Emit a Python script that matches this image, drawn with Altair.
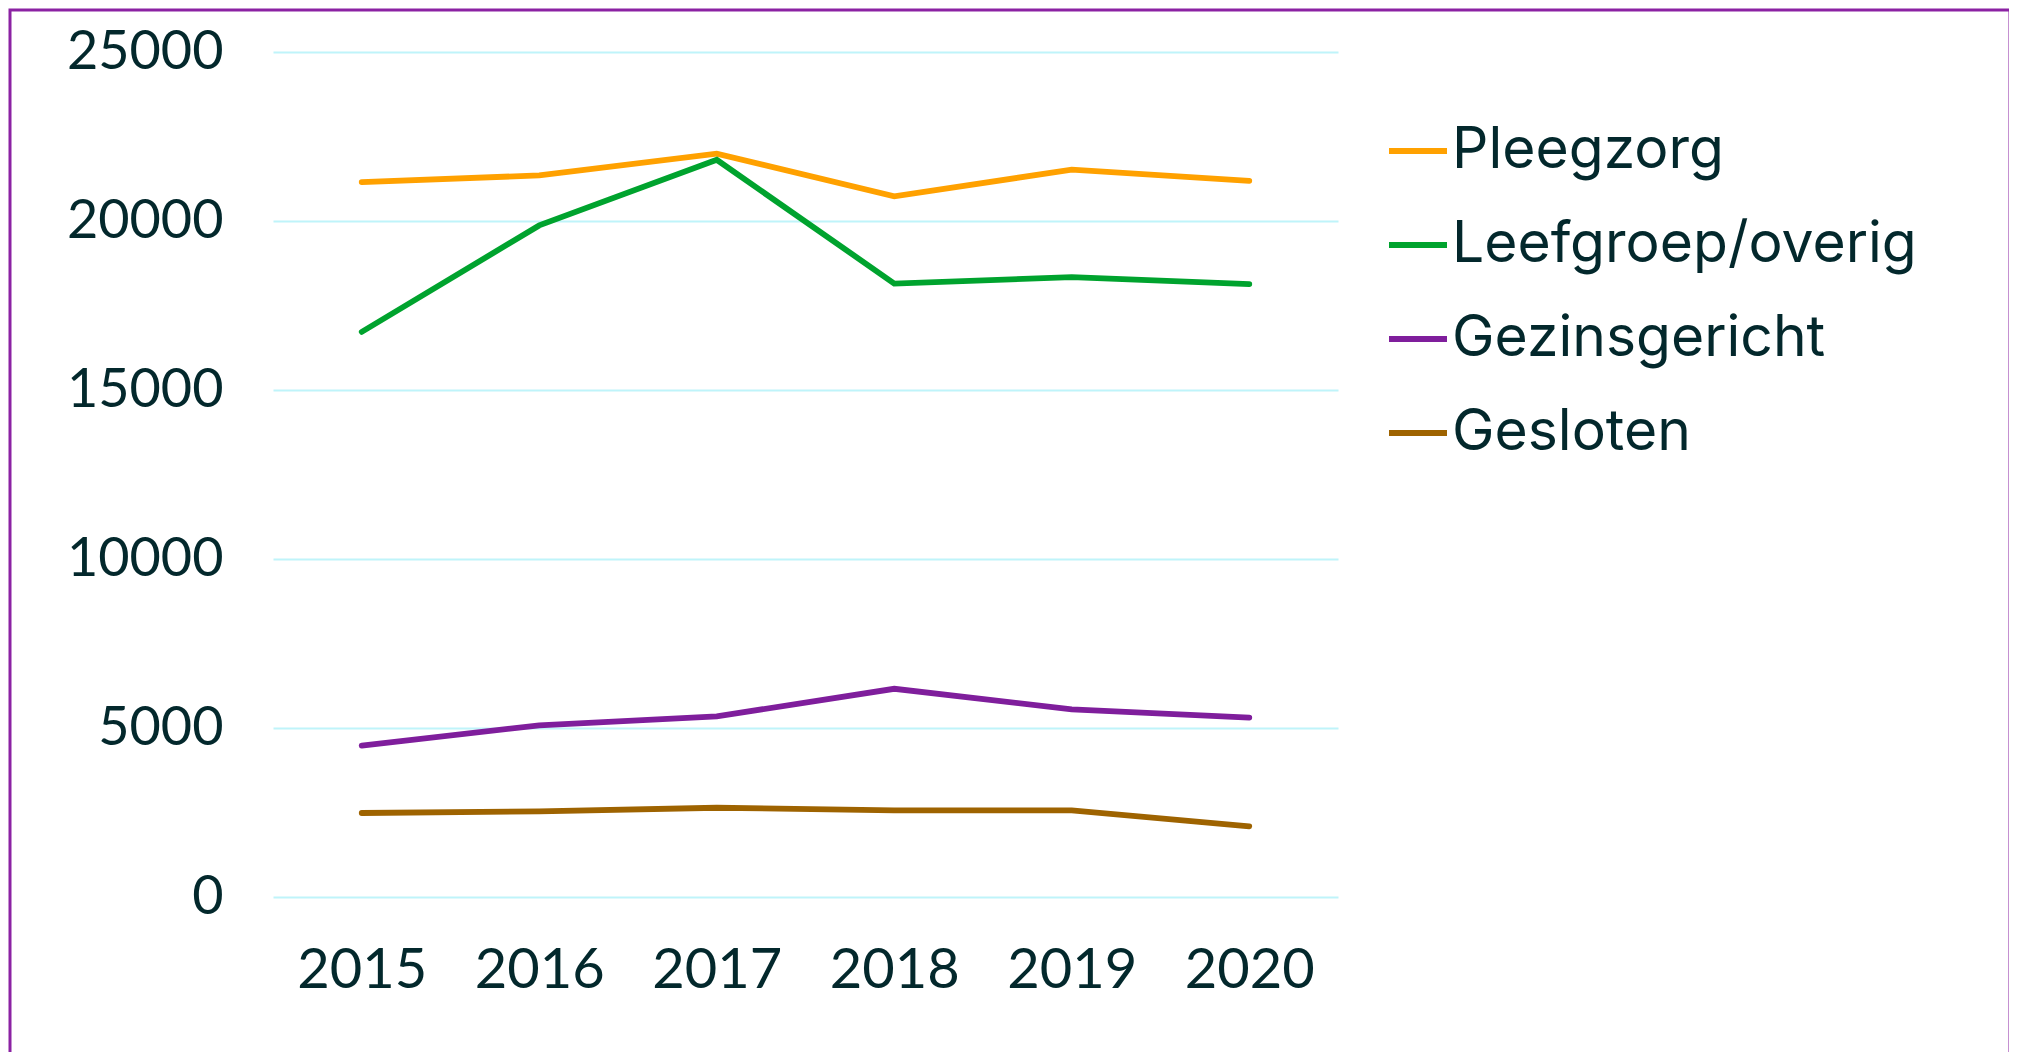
import altair as alt
import pandas as pd

years = ["2015", "2016", "2017", "2018", "2019", "2020"]
series_names = ["Pleegzorg", "Leefgroep/overig", "Gezinsgericht", "Gesloten"]
pleegzorg = [21150, 21350, 21990, 20730, 21520, 21190]
leefgroep = [16720, 19870, 21810, 18150, 18340, 18130]
gezinsgericht = [4480, 5080, 5345, 6160, 5550, 5305]
gesloten = [2485, 2535, 2640, 2565, 2565, 2090]
colors = ["#FFA100", "#00A32E", "#7F1E9C", "#9E6300"]
y_ticks = [0, 5000, 10000, 15000, 20000, 25000]

rows = []
for name, vals in zip(series_names, [pleegzorg, leefgroep, gezinsgericht, gesloten]):
    for yr, v in zip(years, vals):
        rows.append({"Jaar": yr, "Waarde": v, "Soort": name})
df = pd.DataFrame(rows)

TEXT = "#03282C"
FONT = "Lato"
LEGEND_FONT = "Inter"

W, H = 1065, 845
PAD = {"left": 265, "top": 44, "right": 671, "bottom": 155}

lines = alt.Chart(df).mark_line(strokeWidth=5.8, strokeCap="round", strokeJoin="miter").encode(
    x=alt.X("Jaar:O", sort=years, scale=alt.Scale(type="point", padding=0.5),
            axis=alt.Axis(title=None, labelAngle=0, labelFontSize=56, labelFont=FONT,
                          labelColor=TEXT, labelPadding=46, ticks=False, domain=False, grid=False)),
    y=alt.Y("Waarde:Q", scale=alt.Scale(domain=[0, 25000], nice=False),
            axis=alt.Axis(title=None, values=y_ticks, format="d", labelFontSize=54, labelFont=FONT,
                          labelColor=TEXT, labelPadding=50, ticks=False, domain=False,
                          grid=True, gridColor="#BFF4FA", gridWidth=2)),
    color=alt.Color("Soort:N", sort=series_names,
                    scale=alt.Scale(domain=series_names, range=colors),
                    legend=alt.Legend(title=None, orient="none", legendX=1113, legendY=67,
                                      symbolType="stroke", symbolSize=3364, symbolStrokeWidth=5.8,
                                      labelFontSize=57, labelFont=LEGEND_FONT, labelColor=TEXT,
                                      labelOffset=2, labelLimit=0, rowPadding=34, padding=0)),
)

frame = alt.Chart(alt.Data(values=[{"a": 1}])).mark_rect(
    filled=False, stroke="#8B22A3", strokeWidth=3
).encode(
    x=alt.value(-263), x2=alt.value(1737), y=alt.value(-42), y2=alt.value(H + 300)
)

chart = alt.layer(lines, frame).properties(
    width=W, height=H,
    autosize=alt.AutoSizeParams(type="none"),
    padding=PAD,
    background="white",
).configure_view(stroke=None, strokeWidth=0)

chart.save("out.html", embed_options={"renderer": "svg", "actions": False})
